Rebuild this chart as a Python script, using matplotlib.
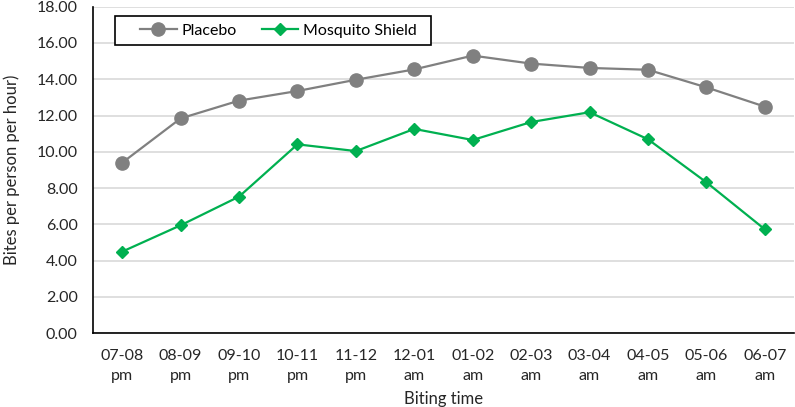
import numpy as np
import matplotlib.pyplot as plt
from matplotlib.patches import Rectangle

plt.rcParams['font.family'] = ['Lato', 'DejaVu Sans']

hours = ['07-08\npm', '08-09\npm', '09-10\npm', '10-11\npm', '11-12\npm', '12-01\nam',
         '01-02\nam', '02-03\nam', '03-04\nam', '04-05\nam', '05-06\nam', '06-07\nam']
placebo = [9.40, 11.84, 12.82, 13.35, 13.97, 14.54, 15.30, 14.86, 14.62, 14.52, 13.55, 12.49]
shield = [4.50, 5.95, 7.53, 10.41, 10.04, 11.26, 10.65, 11.64, 12.18, 10.69, 8.32, 5.73]

fig = plt.figure(figsize=(7.95, 4.07), dpi=100)
ax = fig.add_axes([93 / 795, 73.7 / 407, 701 / 795, 326.7 / 407])

x = np.arange(len(hours))
ax.plot(x, placebo, color='#808080', lw=1.6, marker='o', ms=9.5, label='Placebo')
ax.plot(x, shield, color='#00B050', lw=1.6, marker='D', ms=6.5, label='Mosquito Shield')

ax.set_xlim(-0.5, len(hours) - 0.5)
ax.set_ylim(0, 18)
ax.set_yticks(np.arange(0, 18.1, 2))
ax.set_yticklabels([f'{v:.2f}' for v in np.arange(0, 18.1, 2)])
ax.set_xticks(x)
ax.set_xticklabels(hours, linespacing=1.55)
ax.tick_params(axis='both', length=0, labelsize=11.5, colors='#262626')
ax.tick_params(axis='x', pad=11)
ax.tick_params(axis='y', pad=11)
ax.grid(axis='y', color='#D9D9D9', lw=1.2)
ax.set_axisbelow(True)
for s in ['top', 'right']:
    ax.spines[s].set_visible(False)
for s in ['left', 'bottom']:
    ax.spines[s].set_color('#000000')
    ax.spines[s].set_linewidth(1.2)

ax.set_xlabel('Biting time', fontsize=12, color='#262626', labelpad=6)
ax.set_ylabel('Bites per person per hour)', fontsize=12, color='#262626', labelpad=12)

# legend box drawn separately so the padding can differ per side
ax.add_patch(Rectangle((0.0314, 0.882), 0.4508, 0.090, transform=ax.transAxes,
                       facecolor='white', edgecolor='black', lw=1.2, zorder=4))
leg = ax.legend(loc='center left', bbox_to_anchor=(0.067, 0.927), ncol=2,
                fontsize=11.5, frameon=False, borderpad=0, borderaxespad=0,
                columnspacing=1.55, handlelength=2.3, handletextpad=0.3)
leg.set_zorder(5)

fig.savefig('out.png', dpi=100)
